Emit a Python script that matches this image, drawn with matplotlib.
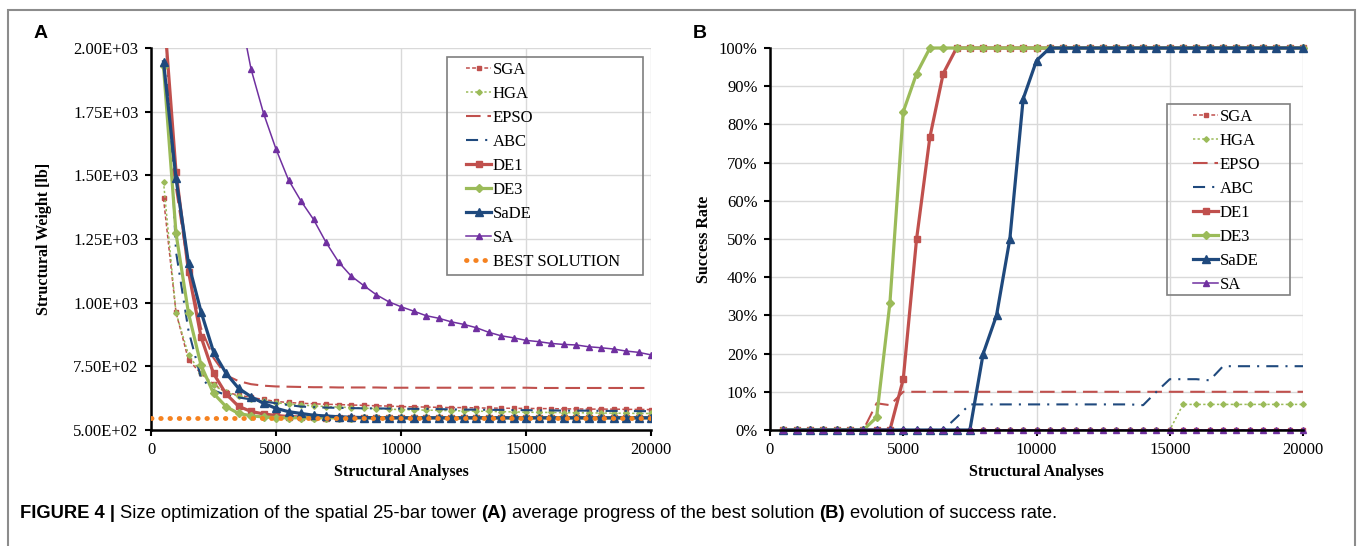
import numpy as np
import matplotlib
matplotlib.use("Agg")
import matplotlib.pyplot as plt
from matplotlib.patches import Rectangle
from matplotlib.ticker import FuncFormatter, PercentFormatter, MultipleLocator

plt.rcParams['font.family'] = ['Liberation Serif', 'DejaVu Serif']

# number of structural analyses (one point every 500)
evals = np.arange(500, 20001, 500)

# --- panel A: average best weight [lb] ---
sga_w = [1410, 962, 775, 722, 680, 648, 637, 628, 620, 612,
         608, 605, 603, 601, 600, 598, 597, 595, 594, 592,
         591, 590, 589, 588, 588, 587, 586, 586, 585, 585,
         584, 584, 583, 583, 582, 582, 582, 581, 581, 580]
hga_w = [1475, 960, 795, 725, 675, 648, 632, 622, 614, 607,
         602, 598, 595, 592, 590, 588, 586, 584, 582, 580,
         579, 578, 577, 576, 575, 574, 573, 572, 571, 570,
         569, 569, 568, 568, 567, 567, 566, 566, 565, 565]
epso_w = [1950, 1450, 1130, 900, 783, 715, 692, 680, 674, 671,
          670, 669, 668, 668, 667, 667, 667, 667, 666, 666,
          666, 666, 666, 666, 666, 666, 666, 666, 666, 666,
          665, 665, 665, 665, 665, 665, 665, 665, 665, 665]
abc_w = [2250, 1200, 890, 705, 655, 638, 628, 620, 612, 605,
         598, 592, 590, 588, 587, 586, 585, 585, 584, 584,
         583, 583, 582, 581, 580, 580, 579, 579, 578, 578,
         577, 577, 576, 576, 576, 575, 575, 575, 574, 574]
de1_w = [2165, 1514, 1122, 866, 722, 642, 593, 573, 563, 557,
         553, 551, 550, 549, 549, 548, 548, 548, 548, 548,
         548, 548, 548, 548, 548, 548, 548, 548, 548, 548,
         548, 548, 548, 548, 548, 548, 548, 548, 548, 548]
de3_w = [1928, 1272, 958, 755, 644, 592, 565, 556, 551, 549,
         548, 548, 548, 548, 548, 548, 548, 548, 548, 548,
         548, 548, 548, 548, 548, 548, 548, 548, 548, 548,
         548, 548, 548, 548, 548, 548, 548, 548, 548, 548]
sade_w = [1946, 1488, 1154, 965, 807, 723, 664, 631, 605, 585,
          572, 565, 558, 555, 552, 550, 549, 548, 548, 548,
          548, 548, 548, 548, 548, 548, 548, 548, 548, 548,
          548, 548, 548, 548, 548, 548, 548, 548, 548, 548]
sa_w = [np.nan, np.nan, np.nan, np.nan, np.nan, np.nan, 2170, 1918, 1744, 1603,
        1482, 1399, 1327, 1237, 1160, 1105, 1068, 1032, 1004, 984,
        967, 949, 939, 925, 915, 902, 884, 870, 862, 852,
        847, 840, 836, 834, 827, 823, 818, 810, 805, 795]
best_weight = 545.2

# --- panel B: success rate [%] ---
sga_sr = [0] * 40
hga_sr = [0] * 30 + [6.7] * 10
epso_sr = [0] * 7 + [7.0, 6.5] + [10] * 31
abc_sr = [0] * 13 + [3.3] + [6.7] * 13 + [6.5, 10.0, 13.3, 13.3, 13.3, 13.0] + [16.7] * 7
de1_sr = [0] * 9 + [13.3, 50.0, 76.7, 93.3] + [100] * 27
de3_sr = [0] * 7 + [3.3, 33.3, 83.3, 93.3] + [100] * 29
sade_sr = [0] * 15 + [20.0, 30.0, 50.0, 86.7, 96.7] + [100] * 20
sa_sr = [0] * 40

names = ['SGA', 'HGA', 'EPSO', 'ABC', 'DE1', 'DE3', 'SaDE', 'SA']
weights = [sga_w, hga_w, epso_w, abc_w, de1_w, de3_w, sade_w, sa_w]
rates = [sga_sr, hga_sr, epso_sr, abc_sr, de1_sr, de3_sr, sade_sr, sa_sr]

red, green, blue, purple, orange = '#C0504D', '#9BBB59', '#1F497D', '#7030A0', '#F58220'
styles = {
    'SGA': dict(color=red, lw=1.1, ls=(0, (2.5, 1.5)), marker='s', ms=3.2),
    'HGA': dict(color=green, lw=1.1, ls=(0, (1.5, 1.5)), marker='D', ms=2.8),
    'EPSO': dict(color=red, lw=1.5, ls=(0, (7, 3.3))),
    'ABC': dict(color=blue, lw=1.5, ls=(0, (5.8, 3.4, 1, 3.4))),
    'DE1': dict(color=red, lw=2.3, ls='-', marker='s', ms=5),
    'DE3': dict(color=green, lw=2.3, ls='-', marker='D', ms=4),
    'SaDE': dict(color=blue, lw=2.3, ls='-', marker='^', ms=6),
    'SA': dict(color=purple, lw=1.1, ls='-', marker='^', ms=4),
}

W, H = 1357, 546
fig = plt.figure(figsize=(W / 100, H / 100), dpi=100)
ax_a = fig.add_axes([151 / W, 1 - 430 / H, 500 / W, 382 / H])
ax_b = fig.add_axes([770 / W, 1 - 430 / H, 533 / W, 382 / H])


def style_axes(ax):
    ax.grid(True, color='#d9d9d9', lw=1)
    ax.set_axisbelow(True)
    for side in ['top', 'right']:
        ax.spines[side].set_visible(False)
    for side in ['left', 'bottom']:
        ax.spines[side].set_linewidth(1.8)
    ax.tick_params(direction='out', length=4, width=1.5, labelsize=12)
    ax.tick_params(axis='x', pad=5)
    ax.tick_params(axis='y', pad=5)
    ax.set_xlim(0, 20000)
    ax.xaxis.set_major_locator(MultipleLocator(5000))


# panel A
for name, vals in zip(names, weights):
    ax_a.plot(evals, vals, label=name, **styles[name])
ax_a.axhline(best_weight, color=orange, lw=3.5, ls=(0, (0.1, 1.8)),
             dash_capstyle='round', label='BEST SOLUTION', zorder=5)
style_axes(ax_a)
ax_a.set_ylim(500, 2000)
ax_a.yaxis.set_major_locator(MultipleLocator(250))
ax_a.yaxis.set_major_formatter(FuncFormatter(lambda v, p: f'{v:.2E}'))
ax_a.set_xlabel('Structural Analyses', fontsize=11.5, fontweight='bold')
ax_a.set_ylabel('Structural Weight [lb]', fontsize=11.5, fontweight='bold')
ax_a.xaxis.set_label_coords(0.5, -0.09)
ax_a.yaxis.set_label_coords(-0.198, 0.5)

# panel B
for name, vals in zip(names, rates):
    ax_b.plot(evals, vals, label=name, clip_on=False, **styles[name])
style_axes(ax_b)
ax_b.set_ylim(0, 100)
ax_b.yaxis.set_major_locator(MultipleLocator(10))
ax_b.yaxis.set_major_formatter(PercentFormatter(100, decimals=0))
ax_b.set_xlabel('Structural Analyses', fontsize=11.5, fontweight='bold')
ax_b.set_ylabel('Success Rate', fontsize=11.5, fontweight='bold')
ax_b.xaxis.set_label_coords(0.5, -0.09)
ax_b.yaxis.set_label_coords(-0.109, 0.5)

# legends (frames drawn separately to match the boxed look)
leg_kw = dict(loc='upper left', frameon=False, fontsize=12, handlelength=1.5,
              handletextpad=0.12, labelspacing=0.48, borderpad=0, borderaxespad=0,
              numpoints=1, bbox_transform=fig.transFigure)
ax_a.legend(bbox_to_anchor=(466 / W, 1 - 62 / H), **leg_kw)
ax_b.legend(bbox_to_anchor=(1193 / W, 1 - 109 / H), **leg_kw)
for x0, y0, x1, y1 in [(447, 57, 643, 275), (1167, 104, 1290, 295)]:
    fig.add_artist(Rectangle((x0 / W, 1 - y1 / H), (x1 - x0) / W, (y1 - y0) / H,
                             transform=fig.transFigure, fill=False,
                             edgecolor='#7f7f7f', lw=1.2))

# outer frame (open at the bottom edge of the crop)
fig.add_artist(Rectangle((7.5 / W, -0.05), (1355 - 7.5) / W, 1 - 10 / H + 0.05,
                         transform=fig.transFigure, fill=False,
                         edgecolor='#8c8c8c', lw=1.5))

# panel letters
sans = 'Liberation Sans'
fig.text(41 / W, 1 - 33 / H, 'A', family=sans, fontweight='bold', fontsize=14,
         ha='center', va='center')
fig.text(700 / W, 1 - 33 / H, 'B', family=sans, fontweight='bold', fontsize=14,
         ha='center', va='center')

# caption with mixed bold / regular pieces
pieces = [('FIGURE 4 |', 'bold'),
          ('Size optimization of the spatial 25-bar tower', 'normal'),
          ('(A)', 'bold'),
          ('average progress of the best solution', 'normal'),
          ('(B)', 'bold'),
          ('evolution of success rate.', 'normal')]
t = fig.text(20 / W, 1 - 522 / H, pieces[0][0], family=sans, fontsize=13.2,
             fontweight=pieces[0][1], va='bottom', ha='left')
for text, weight in pieces[1:]:
    t = fig.add_artist(plt.Annotation(text, xy=(1, 0), xycoords=t,
                                      xytext=(3.6, 0), textcoords='offset points',
                                      family=sans, fontsize=13.2, fontweight=weight,
                                      va='bottom', ha='left'))

fig.savefig('out.png', dpi=100)
